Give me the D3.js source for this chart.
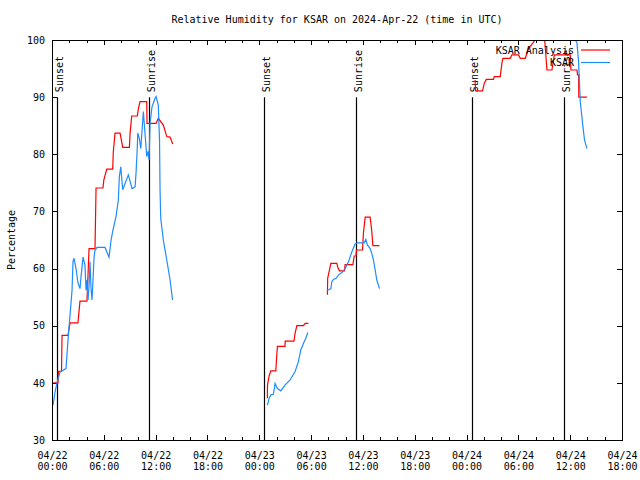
<!DOCTYPE html>
<html>
<head>
<meta charset="utf-8">
<script src="https://cdn.jsdelivr.net/npm/d3@7"></script>
<style>
	body { margin: 0; background: #fff; }
	text { font-family: "DejaVu Sans Mono", monospace; font-size: 10px; fill: #000; }
</style>
</head>
<body>
<div id="chart"></div>
<script>
// hours since 2024-04-22 00:00 UTC
var xTickDays = ["04/22", "04/22", "04/22", "04/22", "04/23", "04/23", "04/23", "04/23", "04/24", "04/24", "04/24", "04/24"];
var xTickClock = ["00:00", "06:00", "12:00", "18:00", "00:00", "06:00", "12:00", "18:00", "00:00", "06:00", "12:00", "18:00"];
var yTicks = [30, 40, 50, 60, 70, 80, 90, 100];

var sunLabels = ["Sunset", "Sunrise", "Sunset", "Sunrise", "Sunset", "Sunrise"];
var sunHours = [0.61, 11.27, 24.59, 35.25, 48.62, 59.28];

var seriesNames = ["KSAR Analysis", "KSAR"];

// KSAR Analysis, one array per stretch of data
var analysis1 = [[0.15,40],[0.7,40],[0.75,42],[1.1,42],[1.16,48.3],[1.85,48.3],[2.09,50.5],[3.0,50.5],[3.24,54.3],[4.05,54.3],[4.29,63.5],[4.98,63.5],[5.1,74.1],[5.9,74.1],[6.0,75.5],[6.34,77.4],[7.03,77.4],[7.1,80.5],[7.3,83.7],[7.88,83.7],[8.19,81.2],[8.96,81.2],[9.04,83.7],[9.23,86.7],[9.88,86.7],[10.0,88],[10.19,89.2],[10.97,89.2],[11.0,85.4],[12.05,85.4],[12.31,86.3],[12.89,85.1],[13.29,83.1],[13.67,83],[13.98,81.8]];
var analysis2 = [[24.94,37.3],[24.95,39.6],[25.14,41.2],[25.34,42.1],[25.92,42.1],[26.0,44.3],[26.1,46.4],[26.98,46.4],[27.0,47.3],[28.02,47.3],[28.15,48.7],[28.35,50.0],[29.11,50.0],[29.31,50.4],[29.69,50.4]];
var analysis3 = [[31.89,55.4],[31.92,58.3],[32.29,60.9],[32.98,60.9],[33.1,60.2],[33.28,59.6],[33.86,59.6],[33.94,60.7],[34.84,60.7],[34.99,62.2],[35.2,62.2],[35.25,63.25],[35.95,63.25],[36.06,66.2],[36.26,69],[36.84,69],[37.03,66.5],[37.15,64],[37.92,64]];
var analysis4 = [[48.99,93],[49.05,91.1],[49.85,91.1],[50.05,92.4],[50.28,93.1],[51.12,93.1],[51.2,93.6],[51.9,93.6],[52.1,96],[52.21,96.8],[53.06,96.8],[53.25,97.4],[54.02,97.4],[54.22,96.8],[54.8,96.8],[55.18,98.5],[55.95,100],[56.3,101],[57.0,101],[57.31,94.75],[57.89,94.75],[58.16,97.4],[60.01,97.4],[60.09,94.75],[60.79,94.75],[60.85,93.9],[60.98,93.9],[61.0,90],[61.94,90]];

// KSAR observations
var obs1 = [[0.12,36.1],[0.35,38.4],[0.58,40],[0.93,41.9],[1.27,42.2],[1.62,42.5],[1.85,47.5],[2.09,51.9],[2.32,56.2],[2.43,61.2],[2.55,61.8],[2.78,60],[3.01,57.5],[3.24,56.5],[3.36,58.5],[3.59,62],[3.82,60.6],[3.94,56.2],[4.05,58],[4.17,54.5],[4.29,57],[4.40,61.2],[4.52,56.5],[4.63,54.5],[4.75,58],[4.87,62],[4.98,63.2],[5.21,63.7],[6.14,63.7],[6.60,62],[6.84,65],[7.07,66.8],[7.41,69.1],[7.68,72],[7.80,76.1],[7.96,77.8],[8.19,73.8],[8.46,74.9],[8.84,76.4],[9.27,74],[9.62,74.3],[9.73,76.7],[9.88,81.3],[9.93,83.7],[10.11,82.8],[10.28,81],[10.58,87.5],[10.97,79.6],[11.12,80.5],[11.24,79],[11.35,85.4],[11.58,88.3],[11.93,89.8],[12.05,90.1],[12.31,88.6],[12.45,82.5],[12.51,73.8],[12.59,68.8],[12.89,65],[13.29,61.5],[13.67,58],[13.96,54.5]];
var obs2 = [[24.94,36.1],[25.14,37.3],[25.34,37.9],[25.64,38],[25.83,39.9],[26.1,39],[26.49,38.6],[26.98,39.6],[27.57,40.5],[28.15,42],[28.53,43.7],[28.81,45.75],[29.11,46.9],[29.39,47.8],[29.62,48.8]];
var obs3 = [[31.82,56.25],[32.0,56.25],[32.29,56.5],[32.40,57.7],[32.59,58.1],[32.90,58.3],[33.17,58.9],[33.56,59.3],[33.94,60],[34.33,61.2],[34.72,62.95],[35.10,64.3],[35.37,64.5],[36.15,64.5],[36.34,65.1],[36.53,64.1],[36.84,63.5],[37.03,62.65],[37.22,61.5],[37.42,59.75],[37.61,58],[37.92,56.5]];
var obs4 = [[60.6,100],[60.79,99.5],[60.98,96],[61.17,89.2],[61.48,84.8],[61.66,82.5],[61.94,81]];

var params = {
	width: 640, height: 480,
	margin: { left: 52, right: 18, top: 40, bottom: 40 },
	colours: ["#ff0000", "#1e8cff"]
};

var svg = d3.select("#chart").append("svg")
	.attr("width", params.width)
	.attr("height", params.height);

var x = d3.scaleLinear()
	.domain([0, 66])
	.range([params.margin.left, params.width - params.margin.right]);

var y = d3.scaleLinear()
	.domain([30, 100])
	.range([params.height - params.margin.bottom, params.margin.top]);

svg.append("clipPath").attr("id", "plot-clip")
	.append("rect")
	.attr("x", x(0)).attr("y", y(100))
	.attr("width", x(66) - x(0)).attr("height", y(30) - y(100));

// title
svg.append("text")
	.attr("x", (x(0) + x(66)) / 2)
	.attr("y", 23)
	.attr("text-anchor", "middle")
	.text("Relative Humidity for KSAR on 2024-Apr-22 (time in UTC)");

svg.append("text")
	.attr("transform", "translate(15," + ((y(30) + y(100)) / 2) + ") rotate(-90)")
	.attr("text-anchor", "middle")
	.text("Percentage");

// axes
var majorHours = d3.range(0, 67, 6);
var minorHours = d3.range(0, 67, 2).filter(function(h) { return h % 6 !== 0; });

var bottomAxis = svg.append("g")
	.attr("transform", "translate(0," + y(30) + ")")
	.call(d3.axisBottom(x).tickValues(majorHours).tickSize(-5).tickFormat(""));
bottomAxis.append("g")
	.call(d3.axisBottom(x).tickValues(minorHours).tickSize(-3).tickFormat(""));

bottomAxis.selectAll(".tick").each(function(d) {
	var i = majorHours.indexOf(d);
	if (i < 0) return;
	var t = d3.select(this).append("text")
		.attr("text-anchor", "middle")
		.style("fill", "#000");
	t.append("tspan").attr("x", 0).attr("y", 18.5).text(xTickDays[i]);
	t.append("tspan").attr("x", 0).attr("y", 30).text(xTickClock[i]);
});

var topAxis = svg.append("g")
	.attr("transform", "translate(0," + y(100) + ")")
	.call(d3.axisTop(x).tickValues(majorHours).tickSize(-5).tickFormat(""));
topAxis.append("g")
	.call(d3.axisTop(x).tickValues(minorHours).tickSize(-3).tickFormat(""));

svg.append("g")
	.attr("transform", "translate(" + x(0) + ",0)")
	.call(d3.axisLeft(y).tickValues(yTicks).tickSize(-5).tickPadding(7));

svg.append("g")
	.attr("transform", "translate(" + x(66) + ",0)")
	.call(d3.axisRight(y).tickValues(yTicks).tickSize(-5).tickFormat(""));

svg.selectAll(".domain").remove();
svg.selectAll(".tick line").attr("stroke", "#000").attr("shape-rendering", "crispEdges");
svg.selectAll(".tick text").style("font-family", "DejaVu Sans Mono, monospace").style("font-size", "10px");

// sunrise / sunset markers
var sun = svg.append("g").selectAll(".sun")
	.data(sunHours)
	.enter().append("g")
	.attr("class", "sun");

sun.append("line")
	.attr("x1", function(d) { return Math.round(x(d)) + 0.5; })
	.attr("x2", function(d) { return Math.round(x(d)) + 0.5; })
	.attr("y1", y(90))
	.attr("y2", y(30))
	.attr("stroke", "#000")
	.attr("stroke-width", 1.2);

sun.append("text")
	.attr("transform", function(d) {
		return "translate(" + (Math.round(x(d)) + 6) + "," + (y(90) - 5) + ") rotate(-90)";
	})
	.text(function(d, i) { return sunLabels[i]; });

// data lines
var line = d3.line()
	.x(function(d) { return x(d[0]); })
	.y(function(d) { return y(d[1]); });

var plot = svg.append("g").attr("clip-path", "url(#plot-clip)");

var analysisSegs = [analysis1, analysis2, analysis3, analysis4];
var obsSegs = [obs1, obs2, obs3, obs4];

plot.append("g").selectAll(".analysis")
	.data(analysisSegs)
	.enter().append("path")
	.attr("class", "analysis")
	.attr("d", line)
	.attr("fill", "none")
	.attr("stroke", params.colours[0])
	.attr("stroke-width", 1.2);

plot.append("g").selectAll(".obs")
	.data(obsSegs)
	.enter().append("path")
	.attr("class", "obs")
	.attr("d", line)
	.attr("fill", "none")
	.attr("stroke", params.colours[1])
	.attr("stroke-width", 1.2);

// frame
svg.append("rect")
	.attr("x", x(0) + 0.5).attr("y", y(100) + 0.5)
	.attr("width", x(66) - x(0)).attr("height", y(30) - y(100))
	.attr("fill", "none")
	.attr("stroke", "#000")
	.attr("shape-rendering", "crispEdges");

// legend
var legend = svg.append("g").selectAll(".legend")
	.data(seriesNames)
	.enter().append("g")
	.attr("class", "legend")
	.attr("transform", function(d, i) { return "translate(0," + (50 + i * 12.5) + ")"; });

legend.append("text")
	.attr("x", 574)
	.attr("dy", "0.35em")
	.attr("text-anchor", "end")
	.text(function(d) { return d; });

legend.append("line")
	.attr("x1", 581).attr("x2", 610)
	.attr("y1", 0).attr("y2", 0)
	.attr("stroke", function(d, i) { return params.colours[i]; })
	.attr("stroke-width", 1.2);
</script>
</body>
</html>
